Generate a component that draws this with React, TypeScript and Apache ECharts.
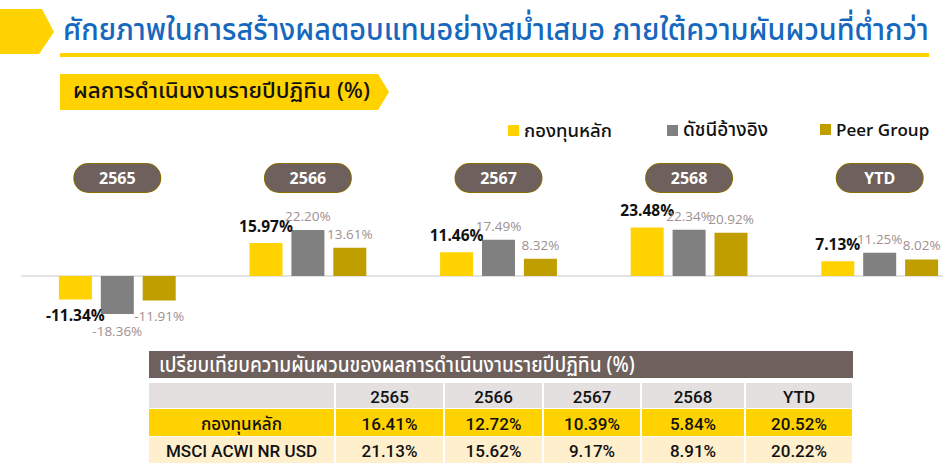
import React, { useEffect, useRef } from "react";
import * as echarts from "echarts";

const years = ["2565", "2566", "2567", "2568", "YTD"];
const seriesNames = ["กองทุนหลัก", "ดัชนีอ้างอิง", "Peer Group"];
const fundReturns = [-11.34, 15.97, 11.46, 23.48, 7.13];
const benchmarkReturns = [-18.36, 22.2, 17.49, 22.34, 11.25];
const peerReturns = [-11.91, 13.61, 8.32, 20.92, 8.02];

const tableYears = ["2565", "2566", "2567", "2568", "YTD"];
const tableRowLabels = ["กองทุนหลัก", "MSCI ACWI NR USD"];
const fundVolatility = [16.41, 12.72, 10.39, 5.84, 20.52];
const benchmarkVolatility = [21.13, 15.62, 9.17, 8.91, 20.22];

const titleText = "ศักยภาพในการสร้างผลตอบแทนอย่างสม่ำเสมอ ภายใต้ความผันผวนที่ต่ำกว่า";
const subtitleText = "ผลการดำเนินงานรายปีปฏิทิน (%)";
const tableTitle = "เปรียบเทียบความผันผวนของผลการดำเนินงานรายปีปฏิทิน (%)";

const YELLOW = "#FFD200";
const GRAY = "#808080";
const GOLD = "#C09E00";
const PILL = "#6E605C";
const BLUE = "#1668BE";
const THAI = "'Noto Sans Thai', 'Noto Sans', sans-serif";
const NUM = "'Open Sans', 'Noto Sans', sans-serif";

function measure(text: string, size: number, family: string, weight: string | number) {
  const ctx = document.createElement("canvas").getContext("2d")!;
  ctx.font = `${weight} ${size}px ${family}`;
  return ctx.measureText(text).width || 1;
}

function fitText(text: string, x: number, y: number, width: number, size: number, family: string, weight: string | number, fill: string) {
  const w = measure(text, size, family, weight);
  return {
    type: "text",
    x,
    y,
    scaleX: width / w,
    style: { text, fontSize: size, fontFamily: family, fontWeight: weight, fill, align: "left", verticalAlign: "middle" },
    z: 10,
  };
}

export default function App() {
  const ref = useRef<HTMLDivElement>(null);
  useEffect(() => {
    const chart = echarts.init(ref.current!, undefined, { renderer: "svg" });

    const colEdges = [149, 335, 444, 543, 641, 745, 853];
    const rowEdges = [383, 409, 437, 464];
    const rowColors = ["#E3E0DF", YELLOW, "#FFEFCC"];
    const tableGraphics: any[] = [];
    tableGraphics.push({ type: "rect", shape: { x: 149, y: 351, width: 704, height: 27 }, style: { fill: PILL } });
    tableGraphics.push(fitText(tableTitle, 159, 365, 476, 22, THAI, 500, "#fff"));
    const rows = [
      ["", ...tableYears],
      [tableRowLabels[0], ...fundVolatility.map((v) => v.toFixed(2) + "%")],
      [tableRowLabels[1], ...benchmarkVolatility.map((v) => v.toFixed(2) + "%")],
    ];
    rows.forEach((row, r) => {
      row.forEach((cell, c) => {
        const x0 = colEdges[c] + (c === 0 ? 0 : 1);
        const x1 = colEdges[c + 1] - 1;
        const y0 = rowEdges[r];
        const y1 = rowEdges[r + 1] - 1;
        tableGraphics.push({ type: "rect", shape: { x: x0, y: y0, width: x1 - x0, height: y1 - y0 }, style: { fill: rowColors[r] } });
        if (cell) {
          tableGraphics.push({
            type: "text",
            x: (x0 + x1) / 2,
            y: (y0 + y1) / 2 + 1,
            style: { text: cell, fontSize: 17, fontFamily: "Roboto, " + THAI, fontWeight: 500, fill: "#111", align: "center", verticalAlign: "middle" },
            z: 10,
          });
        }
      });
    });

    const mkSeries = (name: string, data: number[], color: string, labelStyle: any, negDistance: number) => ({
      name,
      type: "bar",
      xAxisIndex: 0,
      barWidth: 33,
      barGap: "27%",
      itemStyle: { color },
      data: data.map((v) => ({
        value: v,
        label: v < 0 ? { position: "bottom", distance: negDistance } : { position: "top" },
      })),
      label: {
        show: true,
        formatter: (p: any) => Number(p.value).toFixed(2) + "%",
        fontFamily: NUM,
        ...labelStyle,
      },
    });

    const legendCommon = {
      top: 121,
      padding: 0,
      icon: "rect",
      itemWidth: 11,
      itemHeight: 11,
    };

    chart.setOption({
      animation: false,
      grid: { left: 22, top: 214, width: 953, height: 124 },
      legend: [
        { ...legendCommon, left: 508, data: [seriesNames[0]], textStyle: { fontSize: 18.5, color: "#111", fontFamily: THAI, fontWeight: 500 } },
        { ...legendCommon, left: 667, data: [seriesNames[1]], textStyle: { fontSize: 19, color: "#111", fontFamily: THAI, fontWeight: 500 } },
        { ...legendCommon, left: 820, data: [seriesNames[2]], textStyle: { fontSize: 17, color: "#111", fontFamily: NUM, fontWeight: 600 } },
      ],
      xAxis: [
        {
          type: "category",
          data: years,
          position: "bottom",
          axisLine: { onZero: true, lineStyle: { color: "#E3E3E3", width: 2 } },
          axisTick: { show: false },
          axisLabel: { show: false },
        },
        {
          type: "category",
          data: years,
          position: "top",
          axisLine: { show: false, onZero: false },
          axisTick: { show: false },
          axisLabel: {
            margin: 22,
            color: "#fff",
            fontWeight: "bold",
            fontSize: 16,
            fontFamily: NUM,
            backgroundColor: PILL,
            borderColor: "#8A6E00",
            borderWidth: 1,
            borderRadius: 15,
            width: 86,
            height: 28,
            lineHeight: 28,
            align: "center",
          },
        },
      ],
      yAxis: { type: "value", min: -30, max: 30, show: false, splitLine: { show: false } },
      series: [
        mkSeries(seriesNames[0], fundReturns, YELLOW, { color: "#111", fontWeight: "bold", fontSize: 15.5, distance: 9 }, 8),
        mkSeries(seriesNames[1], benchmarkReturns, GRAY, { color: "#A08F8F", fontSize: 13.5, distance: 7 }, 10),
        mkSeries(seriesNames[2], peerReturns, GOLD, { color: "#A08F8F", fontSize: 13.5, distance: 7 }, 8),
      ],
      graphic: [
        { type: "polygon", shape: { points: [[0, 9], [42, 9], [54, 32], [39, 54], [0, 54]] }, style: { fill: YELLOW } },
        fitText(titleText, 63, 31, 866, 30, THAI, 500, BLUE),
        { type: "rect", shape: { x: 60, y: 53, width: 869, height: 4 }, style: { fill: YELLOW } },
        { type: "polygon", shape: { points: [[60, 74], [378, 74], [389, 92], [378, 110], [60, 110]] }, style: { fill: YELLOW } },
        fitText(subtitleText, 73, 92, 297, 21, THAI, 500, "#111"),
        ...tableGraphics,
      ],
    });
    return () => chart.dispose();
  }, []);
  return (
    <div style={{ position: "fixed", left: 0, top: 0, width: 943, height: 471, overflow: "hidden", background: "#fff" }}>
      <div ref={ref} style={{ width: 980, height: 471 }} />
    </div>
  );
}
